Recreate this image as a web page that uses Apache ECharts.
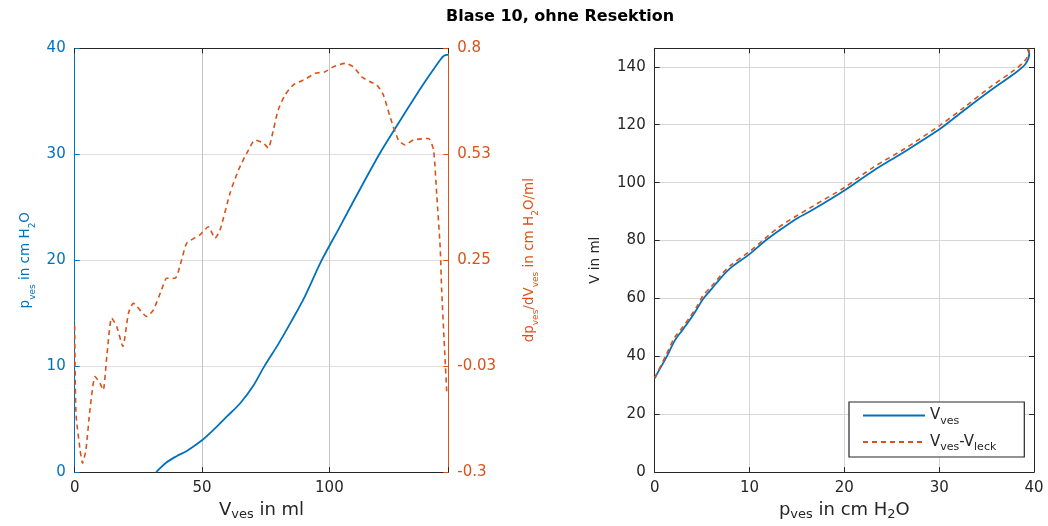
<!DOCTYPE html>
<html>
<head>
<meta charset="utf-8">
<script src="https://cdn.jsdelivr.net/npm/echarts@6/dist/echarts.min.js"></script>
<style>html,body{margin:0;padding:0;background:#fff}#c{width:1048px;height:526px}</style>
</head>
<body>
<div id="c"></div>
<script>
// ---- Data ----
const titleText = 'Blase 10, ohne Resektion';

// left panel, blue: p_ves over V_ves
const leftVolume   = [32, 36, 40, 44, 50, 55, 60, 65, 70, 74.5, 80, 85, 90, 97, 104, 110, 119.6, 126, 132, 138, 143.5, 145, 146.7];
const leftPressure = [0, 0.9, 1.5, 2.0, 3.0, 4.1, 5.3, 6.5, 8.1, 10, 12.1, 14.2, 16.4, 20, 23.1, 25.8, 30, 32.5, 34.8, 37, 38.9, 39.3, 39.4];

// left panel, orange dashed: dp_ves/dV_ves over V_ves
const dpVolume = [0, 0.5, 2.1, 3.1, 4.4, 6.0, 8.0, 9.9, 11.2, 12.6, 14.5, 16.5, 18.9, 21.1, 23.0, 28.3, 30.9, 34.1, 36.1, 39.4,
  42, 44, 49.2, 52.5, 55.1, 57.1, 61, 64.3, 68.2, 70.8, 74.1, 76, 78, 79.9, 82.6, 85.9, 91.1, 94.4, 98.3, 101.6,
  106.2, 109.4, 112.7, 116, 118.6, 121.2, 123.8, 127.1, 129.7, 133, 138.9, 140.9, 142.2, 143.5, 144.1, 145, 146.1];
const dpSlope = [0.08, -0.147, -0.242, -0.277, -0.242, -0.138, -0.052, -0.069, -0.087, 0.0, 0.1, 0.078, 0.026, 0.112, 0.138, 0.104, 0.121, 0.173, 0.203, 0.203,
  0.251, 0.294, 0.316, 0.337, 0.307, 0.329, 0.424, 0.484, 0.536, 0.562, 0.554, 0.541, 0.588, 0.640, 0.679, 0.705, 0.722, 0.735, 0.739, 0.752,
  0.761, 0.752, 0.726, 0.713, 0.705, 0.679, 0.623, 0.562, 0.549, 0.562, 0.566, 0.536, 0.415, 0.285, 0.173, 0.05, -0.095];
const dpTickLabels = ['-0.3', '-0.03', '0.25', '0.53', '0.8'];

// right panel: V over p_ves
const rightPressure = [0, 0.6, 1.27, 2.14, 3.0, 3.73, 4.5, 5.14, 6.0, 7.0, 8.1, 10.0, 11.5, 13.2, 15.0, 16.8, 20, 23.1, 26.3, 30.1, 32.6, 35.4, 37.9, 39.1, 39.5, 39.4, 39.3];
const rightVolume   = [32.4, 36, 39.9, 45.6, 49.4, 52.7, 56.6, 60, 63.3, 67.2, 70.8, 75.3, 79.5, 83.6, 87.6, 90.9, 97.3, 104.2, 110.6, 118.6, 124.9, 131.8, 137.6, 141.0, 144.5, 145.6, 146.2];
const leakPressure  = [0, 1.2, 2.1, 3.0, 3.7, 4.5, 5.1, 6.0, 7.0, 8.1, 10.0, 13.1, 16.7, 20, 23, 26.3, 30, 32.6, 35.3, 37.8, 39.0, 39.5, 39.4, 39.3];
const leakVolume    = [32.6, 40.4, 46.5, 50.3, 53.5, 57.5, 61.0, 64.2, 68.1, 71.7, 76.2, 84.6, 91.9, 98.3, 105.2, 111.6, 119.6, 125.9, 132.8, 138.6, 142.0, 145.3, 146.0, 146.4];

const seriesNames = ['Vves', 'Vves-Vleck'];
const legendLabels = {'Vves': '{n|V}{s|ves}', 'Vves-Vleck': '{n|V}{s|ves}{n|-V}{s|leck}'};

// ---- Styling ----
const BLUE = '#0072BD', ORANGE = '#D95319', DARK = '#262626';
const FONT = 'DejaVu Sans';
const zip = (a, b) => a.map((v, i) => [v, b[i]]);
const richName = (size, color) => ({
  n: {fontFamily: FONT, fontSize: size, color: color, lineHeight: 22, verticalAlign: 'middle'},
  s: {fontFamily: FONT, fontSize: Math.round(size * 0.7), color: color, lineHeight: 12, verticalAlign: 'bottom'}
});
const multipleOf = (step) => (v) => (Math.abs(v / step - Math.round(v / step)) < 1e-6 ? String(Math.round(v)) : '');
const tickLabel = (color) => ({color: color, fontFamily: FONT, fontSize: 15, margin: 9});
const tick = (color) => ({inside: true, length: 5, lineStyle: {color: color}});
const line = (color) => ({show: true, onZero: false, lineStyle: {color: color}});

const chart = echarts.init(document.getElementById('c'), null, {renderer: 'canvas'});
chart.setOption({
  backgroundColor: '#fff',
  animation: false,
  title: {text: titleText, left: 446, top: 9, padding: 0,
    textStyle: {fontFamily: FONT, fontWeight: 'bold', fontSize: 16, color: '#000'}},
  grid: [
    {left: 74.7, top: 48.3, width: 373.6, height: 424, containLabel: false},
    {left: 654.7, top: 48.3, width: 379.3, height: 424, containLabel: false}
  ],
  legend: {
    data: seriesNames, orient: 'vertical', left: 849, top: 402,
    itemWidth: 62, itemHeight: 12, itemGap: 8,
    padding: [6, 28, 4, 13], borderColor: DARK, borderWidth: 1.2, backgroundColor: '#fff',
    itemStyle: {opacity: 0},
    formatter: (name) => legendLabels[name],
    textStyle: {rich: richName(15, DARK), padding: [0, 0, 0, 0]}
  },
  xAxis: [
    {gridIndex: 0, type: 'value', position: 'bottom', min: 0, max: 146.7, interval: 50,
      axisLine: line(DARK), axisTick: tick(DARK),
      axisLabel: Object.assign(tickLabel(DARK), {formatter: multipleOf(50)}),
      splitLine: {show: true, lineStyle: {color: '#c4c4c4'}},
      name: '{n|V}{s|ves}{n| in ml}', nameLocation: 'middle', nameGap: 26,
      nameTextStyle: {rich: richName(18, DARK)}},
    {gridIndex: 0, type: 'value', position: 'top', min: 0, max: 146.7, interval: 50,
      axisLine: line(DARK), axisTick: tick(DARK), axisLabel: {show: false}, splitLine: {show: false}},
    {gridIndex: 1, type: 'value', position: 'bottom', min: 0, max: 40, interval: 10,
      axisLine: line(DARK), axisTick: tick(DARK),
      axisLabel: tickLabel(DARK),
      splitLine: {show: true, lineStyle: {color: '#d6d6d6'}},
      name: '{n|p}{s|ves}{n| in cm H}{s|2}{n|O}', nameLocation: 'middle', nameGap: 26,
      nameTextStyle: {rich: richName(18, DARK)}},
    {gridIndex: 1, type: 'value', position: 'top', min: 0, max: 40, interval: 10,
      axisLine: line(DARK), axisTick: tick(DARK), axisLabel: {show: false}, splitLine: {show: false}}
  ],
  yAxis: [
    {gridIndex: 0, type: 'value', position: 'left', min: 0, max: 40, interval: 10,
      axisLine: line(BLUE), axisTick: tick(BLUE),
      axisLabel: tickLabel(BLUE),
      splitLine: {show: true, lineStyle: {color: '#e4dce2'}},
      name: '{n|p}{s|ves}{n| in cm H}{s|2}{n|O}', nameLocation: 'middle', nameGap: 38,
      nameTextStyle: {rich: richName(13.5, BLUE)}},
    {gridIndex: 0, type: 'value', position: 'right', min: -0.3, max: 0.8, interval: 0.275,
      axisLine: line(ORANGE), axisTick: tick(ORANGE),
      axisLabel: Object.assign(tickLabel(ORANGE), {
        formatter: (v) => dpTickLabels[Math.round((v + 0.3) / 0.275)] || ''}),
      splitLine: {show: false},
      name: '{n|dp}{s|ves}{n|/dV}{s|ves}{n| in cm H}{s|2}{n|O/ml}', nameLocation: 'middle', nameGap: 70, nameRotate: 90,
      nameTextStyle: {rich: richName(13.5, ORANGE)}},
    {gridIndex: 1, type: 'value', position: 'left', min: 0, max: 146.4, interval: 20,
      axisLine: line(DARK), axisTick: tick(DARK),
      axisLabel: Object.assign(tickLabel(DARK), {formatter: multipleOf(20)}),
      splitLine: {show: true, lineStyle: {color: '#d6d6d6'}},
      name: '{n|V in ml}', nameLocation: 'middle', nameGap: 48,
      nameTextStyle: {rich: richName(13.5, DARK)}},
    {gridIndex: 1, type: 'value', position: 'right', min: 0, max: 146.4, interval: 20,
      axisLine: line(DARK), axisTick: tick(DARK), axisLabel: {show: false}, splitLine: {show: false}}
  ],
  series: [
    {type: 'line', name: 'p_left', xAxisIndex: 0, yAxisIndex: 0, data: zip(leftVolume, leftPressure),
      symbol: 'none', smooth: 0.3, lineStyle: {color: BLUE, width: 1.8}, itemStyle: {color: BLUE}, z: 3},
    {type: 'line', name: 'dp_left', xAxisIndex: 0, yAxisIndex: 1, data: zip(dpVolume, dpSlope),
      symbol: 'none', smooth: 0.2, lineStyle: {color: ORANGE, width: 1.6, type: [5, 4]}, itemStyle: {color: ORANGE}, z: 3},
    {type: 'line', name: seriesNames[0], xAxisIndex: 2, yAxisIndex: 2, data: zip(rightPressure, rightVolume),
      symbol: 'none', smooth: 0.3, lineStyle: {color: BLUE, width: 1.8}, itemStyle: {color: BLUE}, z: 3},
    {type: 'line', name: seriesNames[1], xAxisIndex: 2, yAxisIndex: 2, data: zip(leakPressure, leakVolume),
      symbol: 'none', smooth: 0.3, lineStyle: {color: ORANGE, width: 1.6, type: [5, 4]}, itemStyle: {color: ORANGE}, z: 4}
  ]
});
</script>
</body>
</html>
